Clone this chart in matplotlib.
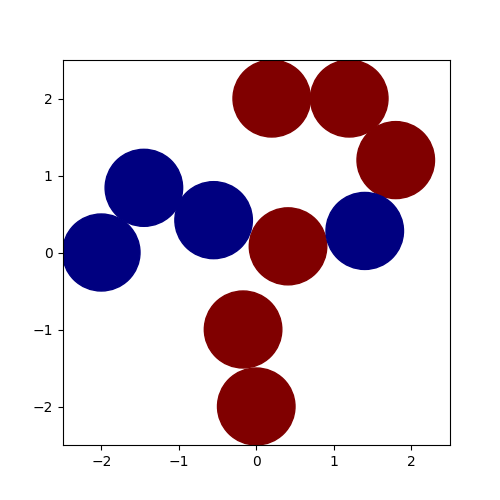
import matplotlib
matplotlib.use("Agg")
import matplotlib.pyplot as plt
from matplotlib.patches import Circle

# centros de los círculos y su clase (0 = azul, 1 = rojo)
xs = [0.2, 1.2, 1.8, 0.41, -0.17, 0.0, -2.0, -1.45, -0.55, 1.4]
ys = [2.0, 2.0, 1.2, 0.08, -1.0, -2.0, 0.0, 0.84, 0.42, 0.28]
labels = [1, 1, 1, 1, 1, 1, 0, 0, 0, 0]
radius = 0.5

cmap = plt.get_cmap("jet")

fig, ax = plt.subplots(figsize=(5, 5), dpi=100)
for x, y, lab in zip(xs, ys, labels):
    ax.add_patch(Circle((x, y), radius, color=cmap(float(lab))))

ax.set_xlim(-2.5, 2.5)
ax.set_ylim(-2.5, 2.5)
ax.set_xticks([-2, -1, 0, 1, 2])
ax.set_yticks([-2, -1, 0, 1, 2])

plt.savefig("out.png")
